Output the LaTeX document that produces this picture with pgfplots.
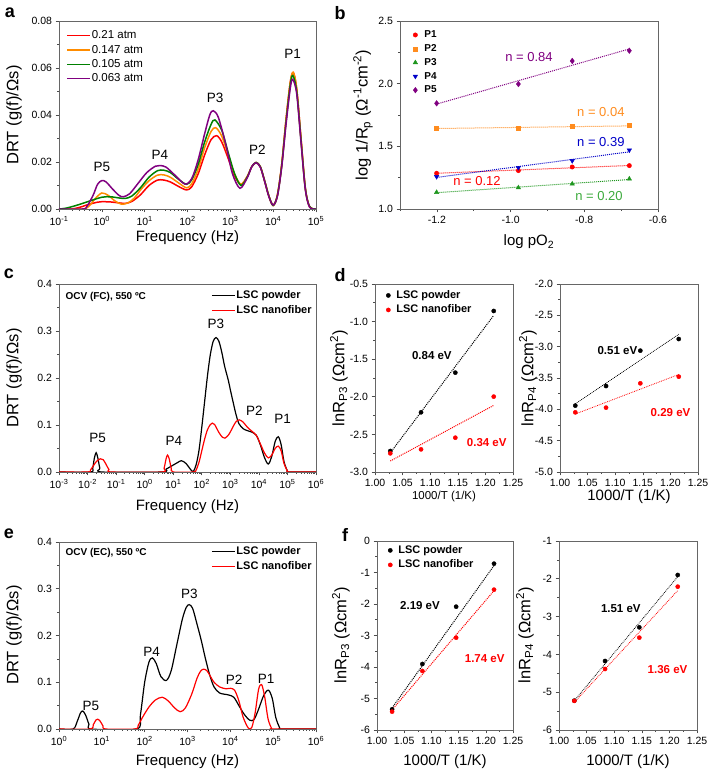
\documentclass[border=0pt]{standalone}
\usepackage{fontspec}
\setmainfont{Liberation Sans}
\usepackage{pgfplots}
\usepackage{pgfplotstable}
\pgfplotsset{compat=1.18}
\definecolor{cred}{RGB}{255,0,0}
\definecolor{corange}{RGB}{255,140,0}
\definecolor{cgreen}{RGB}{0,128,0}
\definecolor{cpurple}{RGB}{128,0,128}
\definecolor{borange}{RGB}{255,140,30}
\definecolor{bgreen}{RGB}{30,150,30}
\definecolor{tgreen}{RGB}{60,170,60}
\definecolor{bblue}{RGB}{0,0,200}
\newcommand{\tf}{\fontsize{10.5}{12}\selectfont}
\newcommand{\xlf}{\fontsize{15}{17}\selectfont}
\newcommand{\ylf}{\fontsize{16.5}{18}\selectfont}
\newcommand{\pf}{\fontsize{13.5}{15}\selectfont}
\newcommand{\letf}{\fontsize{18}{20}\selectfont\bfseries}
\gdef\minorlist{}
\foreach \e in {-3,...,5}{\foreach \m in {2,...,9}{\xdef\minorlist{\minorlist\m e\e,}}}
\pgfplotsset{
 myax/.style={scale only axis, anchor=south west,
  axis line style={black!60, line width=0.7pt},
  every tick/.style={black!70, line width=0.6pt},
  tick align=outside, xtick pos=left, ytick pos=left,
  major tick length=3.5pt, minor tick length=2pt,
  ticklabel style={font=\tf}, /pgf/number format/assume math mode=true,
  scaled x ticks=false, scaled y ticks=false,
  legend cell align=left},
 logminor/.style={minor xtick/.expanded={\minorlist 2e6}},
 lleg/.style={legend style={draw=none, fill=none, row sep=1.3pt,
   nodes={text height=8.5pt, text depth=2.5pt, inner sep=1pt}}},
 fx2/.style={xticklabel={\pgfmathprintnumber[fixed,fixed zerofill,precision=2]{\tick}}},
 fx1/.style={xticklabel={\pgfmathprintnumber[fixed,fixed zerofill,precision=1]{\tick}}},
 fy2/.style={yticklabel={\pgfmathprintnumber[fixed,fixed zerofill,precision=2]{\tick}}},
 fy1/.style={yticklabel={\pgfmathprintnumber[fixed,fixed zerofill,precision=1]{\tick}}},
 fy0/.style={yticklabel={\pgfmathprintnumber[fixed,precision=0]{\tick}}},
}
\pgfplotstableread{
x y
-1.0 0
-0.7 0.0000
-0.5 0.0008
-0.3 0.0020
-0.1 0.0029
0.0 0.0031
0.2 0.0030
0.4 0.0026
0.55 0.0024
0.7 0.0032
0.9 0.0060
1.1 0.0100
1.3 0.0123
1.45 0.0123
1.6 0.0115
1.8 0.0095
1.98 0.0081
2.1 0.0095
2.25 0.0150
2.4 0.0230
2.55 0.0295
2.68 0.0312
2.8 0.0285
2.95 0.0215
3.1 0.0140
3.25 0.0105
3.4 0.0140
3.5 0.0180
3.6 0.0197
3.7 0.0180
3.8 0.0120
3.9 0.0055
4.0 0.0015
4.1 0.0060
4.2 0.0190
4.3 0.0380
4.4 0.0540
4.47 0.0580
4.55 0.0510
4.65 0.0300
4.75 0.0090
4.85 0.0010
5.0 0
}\aRed
\pgfplotstableread{
x y
-1.0 0
-0.45 0
-0.3 0.0012
-0.15 0.0045
0.0 0.0068
0.15 0.0058
0.3 0.0035
0.45 0.0021
0.6 0.0025
0.75 0.0045
0.9 0.0080
1.1 0.0120
1.3 0.0144
1.45 0.0145
1.6 0.0135
1.8 0.0110
1.98 0.0090
2.1 0.0108
2.25 0.0170
2.4 0.0260
2.55 0.0330
2.66 0.0346
2.8 0.0310
2.95 0.0230
3.1 0.0148
3.25 0.0105
3.4 0.0140
3.5 0.0180
3.6 0.0198
3.7 0.0180
3.8 0.0120
3.9 0.0055
4.0 0.0015
4.1 0.0060
4.2 0.0190
4.3 0.0380
4.4 0.0540
4.47 0.0582
4.55 0.0510
4.65 0.0300
4.75 0.0090
4.85 0.0010
5.0 0
}\aOrange
\pgfplotstableread{
x y
-1.0 0
-0.85 0.0003
-0.6 0.0015
-0.3 0.0033
0.0 0.0050
0.2 0.0052
0.4 0.0047
0.55 0.0045
0.7 0.0055
0.9 0.0090
1.1 0.0135
1.3 0.0163
1.45 0.0165
1.6 0.0155
1.8 0.0125
1.98 0.0105
2.1 0.0125
2.25 0.0190
2.4 0.0285
2.55 0.0360
2.64 0.0379
2.8 0.0335
2.95 0.0240
3.1 0.0150
3.25 0.0100
3.4 0.0138
3.5 0.0180
3.6 0.0198
3.7 0.0180
3.8 0.0120
3.9 0.0055
4.0 0.0015
4.1 0.0058
4.2 0.0185
4.3 0.0370
4.4 0.0530
4.46 0.0568
4.55 0.0500
4.65 0.0292
4.75 0.0088
4.85 0.0010
5.0 0
}\aGreen
\pgfplotstableread{
x y
-1.0 0
-0.45 0
-0.35 0.0010
-0.2 0.0060
-0.1 0.0105
0.0 0.0121
0.1 0.0115
0.25 0.0085
0.4 0.0058
0.5 0.0052
0.65 0.0065
0.85 0.0110
1.05 0.0155
1.25 0.0182
1.36 0.0185
1.5 0.0178
1.7 0.0145
1.94 0.0106
2.1 0.0130
2.25 0.0210
2.4 0.0320
2.52 0.0400
2.6 0.0418
2.72 0.0390
2.9 0.0270
3.05 0.0150
3.226 0.0088
3.4 0.0135
3.5 0.0180
3.6 0.0197
3.7 0.0178
3.8 0.0118
3.9 0.0052
4.0 0.0017
4.1 0.0055
4.2 0.0180
4.3 0.0360
4.4 0.0515
4.456 0.0552
4.55 0.0490
4.65 0.0285
4.75 0.0085
4.85 0.0008
5.0 0
}\aPurple
\pgfplotstableread{
x y
-3.0 0
-1.9 0
-1.82 0.008
-1.76 0.030
-1.70 0.041
-1.64 0.030
-1.57 0.008
-1.5 0
0.6 0
0.75 0.006
0.95 0.013
1.15 0.020
1.29 0.024
1.45 0.018
1.6 0.006
1.7 0.001
1.8 0.015
1.9 0.045
2.0 0.095
2.1 0.150
2.2 0.205
2.3 0.250
2.4 0.278
2.5 0.286
2.6 0.278
2.7 0.255
2.8 0.225
2.93 0.195
3.0 0.175
3.1 0.148
3.2 0.122
3.3 0.103
3.45 0.092
3.6 0.088
3.75 0.085
3.91 0.078
4.05 0.058
4.2 0.030
4.33 0.017
4.45 0.033
4.57 0.065
4.68 0.075
4.78 0.058
4.88 0.022
5.0 0.002
5.05 0
6.0 0
}\cBlack
\pgfplotstableread{
x y
-3.0 0
-2.0 0
-1.9 0.004
-1.8 0.013
-1.68 0.023
-1.55 0.028
-1.45 0.026
-1.35 0.016
-1.25 0.005
-1.15 0
0.6 0
0.68 0.008
0.75 0.028
0.8 0.036
0.86 0.028
0.93 0.008
1.0 0
1.7 0
1.8 0.004
1.9 0.020
2.0 0.045
2.1 0.070
2.2 0.090
2.3 0.101
2.37 0.104
2.45 0.101
2.6 0.084
2.72 0.074
2.81 0.072
2.95 0.080
3.1 0.097
3.2 0.107
3.31 0.111
3.45 0.106
3.6 0.095
3.75 0.087
3.91 0.078
4.05 0.060
4.2 0.040
4.33 0.030
4.45 0.036
4.57 0.050
4.68 0.055
4.78 0.045
4.88 0.018
5.0 0.002
5.05 0
6.0 0
}\cRed
\pgfplotstableread{
x y
0 0
0.33 0
0.42 0.015
0.5 0.034
0.553 0.0385
0.62 0.030
0.7 0.010
0.76 0
1.81 0
1.9 0.030
2.0 0.100
2.1 0.143
2.18 0.152
2.27 0.140
2.38 0.112
2.51 0.104
2.62 0.125
2.75 0.180
2.88 0.235
2.97 0.260
3.04 0.266
3.12 0.258
3.22 0.225
3.32 0.190
3.42 0.150
3.52 0.115
3.62 0.090
3.75 0.077
3.95 0.073
4.08 0.068
4.2 0.050
4.32 0.032
4.45 0.019
4.55 0.020
4.65 0.040
4.78 0.072
4.89 0.083
4.98 0.065
5.06 0.025
5.15 0.003
5.2 0
6.0 0
}\eBlack
\pgfplotstableread{
x y
0 0
0.72 0
0.8 0.009
0.86 0.019
0.9 0.021
0.96 0.017
1.03 0.006
1.09 0
1.77 0
1.85 0.008
1.95 0.025
2.1 0.047
2.25 0.062
2.41 0.068
2.55 0.060
2.7 0.045
2.83 0.037
2.95 0.045
3.1 0.075
3.22 0.108
3.3 0.123
3.37 0.128
3.45 0.125
3.52 0.115
3.62 0.100
3.75 0.090
3.9 0.086
4.0 0.087
4.1 0.083
4.2 0.060
4.3 0.025
4.42 0.002
4.5 0.003
4.58 0.035
4.66 0.085
4.73 0.095
4.8 0.070
4.88 0.022
4.96 0.002
5.0 0
6.0 0
}\eRed
\begin{document}
\begin{tikzpicture}[x=1pt,y=1pt]
\path[use as bounding box] (0,0) rectangle (709,775);
% ---------------- panel a
\begin{axis}[myax, lleg, logminor, at={(59pt,566pt)}, width=257pt, height=188pt,
  xmode=log, xmin=0.1, xmax=1e5, ymin=0, ymax=0.08,
  xtick={0.1,1,10,100,1000,10000,100000},
  xticklabels={10\textsuperscript{-1},10\textsuperscript{0},10\textsuperscript{1},10\textsuperscript{2},10\textsuperscript{3},10\textsuperscript{4},10\textsuperscript{5}},
  ytick={0,0.02,0.04,0.06,0.08}, minor y tick num=1, fy2,
  legend style={at={(axis description cs:0.016,0.968)}, anchor=north west, font=\fontsize{11.5}{12}\selectfont},
  legend image code/.code={\draw[#1, line width=1.5pt] (0pt,0pt)--(23pt,0pt);}]
\addplot[cred, line width=1.5pt, smooth, tension=0.5] table[x expr={10^(\thisrow{x})}, y=y] {\aRed};
\addlegendentry{0.21 atm}
\addplot[corange, line width=1.5pt, smooth, tension=0.5] table[x expr={10^(\thisrow{x})}, y=y] {\aOrange};
\addlegendentry{0.147 atm}
\addplot[cgreen, line width=1.5pt, smooth, tension=0.5] table[x expr={10^(\thisrow{x})}, y=y] {\aGreen};
\addlegendentry{0.105 atm}
\addplot[cpurple, line width=1.5pt, smooth, tension=0.5] table[x expr={10^(\thisrow{x})}, y=y] {\aPurple};
\addlegendentry{0.063 atm}
\node[font=\pf] at (axis cs:1,0.0181) {P5};
\node[font=\pf] at (axis cs:22.8,0.0230) {P4};
\node[font=\pf] at (axis cs:440,0.0471) {P3};
\node[font=\pf] at (axis cs:4256,0.0251) {P2};
\node[font=\pf] at (axis cs:28576,0.0662) {P1};
\end{axis}
% ---------------- panel b
\begin{axis}[myax, at={(400pt,566pt)}, width=258pt, height=188pt,
  xmin=-1.3, xmax=-0.6, ymin=1.0, ymax=2.5,
  xtick={-1.2,-1.0,-0.8,-0.6}, minor xtick={-1.3,-1.1,-0.9,-0.7},
  ytick={1.0,1.5,2.0,2.5}, minor y tick num=1, fx1, fy1,
  legend style={at={(axis description cs:0.02,0.968)}, anchor=north west, draw=none, fill=none,
   font=\bfseries\fontsize{10}{11}\selectfont, row sep=2.3pt,
   nodes={text height=7.5pt, text depth=2pt, inner sep=1pt}},
  legend image code/.code={\draw[#1] plot coordinates {(7pt,0pt)}; \path[draw=none,fill=none] (0pt,0pt) (15pt,0pt);}]
\addplot[only marks, mark=*, cred, mark size=2.2pt] coordinates {(-1.2007,1.285) (-0.9788,1.306) (-0.8327,1.335) (-0.6778,1.346)};
\addlegendentry{P1}
\addplot[only marks, mark=square*, borange, mark size=2pt] coordinates {(-1.2007,1.644) (-0.9788,1.646) (-0.8327,1.657) (-0.6778,1.665)};
\addlegendentry{P2}
\addplot[only marks, mark=triangle*, bgreen, mark size=2.6pt] coordinates {(-1.2007,1.133) (-0.9788,1.170) (-0.8327,1.200) (-0.6778,1.240)};
\addlegendentry{P3}
\addplot[only marks, mark=triangle*, mark options={rotate=180}, bblue, mark size=2.6pt] coordinates {(-1.2007,1.258) (-0.9788,1.330) (-0.8327,1.385) (-0.6778,1.470)};
\addlegendentry{P4}
\addplot[only marks, mark=diamond*, cpurple, mark size=2.8pt] coordinates {(-1.2007,1.843) (-0.9788,1.997) (-0.8327,2.181) (-0.6778,2.263)};
\addlegendentry{P5}
\addplot[cred, densely dotted, line width=1pt, forget plot] coordinates {(-1.2007,1.285) (-0.6778,1.347)};
\addplot[borange, densely dotted, line width=1pt, forget plot] coordinates {(-1.2007,1.642) (-0.6778,1.663)};
\addplot[bgreen, densely dotted, line width=1pt, forget plot] coordinates {(-1.2007,1.130) (-0.6778,1.235)};
\addplot[bblue, densely dotted, line width=1pt, forget plot] coordinates {(-1.2007,1.252) (-0.6778,1.456)};
\addplot[cpurple, densely dotted, line width=1pt, forget plot] coordinates {(-1.2007,1.837) (-0.6778,2.277)};
\node[font=\fontsize{13}{14}\selectfont, text=cpurple] at (axis cs:-0.95,2.213) {n = 0.84};
\node[font=\fontsize{13}{14}\selectfont, text=borange] at (axis cs:-0.755,1.774) {n = 0.04};
\node[font=\fontsize{13}{14}\selectfont, text=bblue] at (axis cs:-0.755,1.537) {n = 0.39};
\node[font=\fontsize{13}{14}\selectfont, text=cred] at (axis cs:-1.091,1.223) {n = 0.12};
\node[font=\fontsize{13}{14}\selectfont, text=tgreen] at (axis cs:-0.76,1.104) {n = 0.20};
\end{axis}
% ---------------- panel c
\begin{axis}[myax, lleg, logminor, at={(59pt,303pt)}, width=257pt, height=188pt,
  xmode=log, xmin=1e-3, xmax=1e6, ymin=0, ymax=0.4,
  xtick={1e-3,1e-2,1e-1,1,10,100,1000,10000,100000,1000000},
  xticklabels={10\textsuperscript{-3},10\textsuperscript{-2},10\textsuperscript{-1},10\textsuperscript{0},10\textsuperscript{1},10\textsuperscript{2},10\textsuperscript{3},10\textsuperscript{4},10\textsuperscript{5},10\textsuperscript{6}},
  ytick={0,0.1,0.2,0.3,0.4}, minor y tick num=1, fy1,
  legend style={at={(axis description cs:0.58,0.984)}, anchor=north west, font=\bfseries\fontsize{11}{12}\selectfont, row sep=1.5pt},
  legend image code/.code={\draw[#1] (0pt,0pt)--(23pt,0pt);}]
\addplot[black, line width=1.2pt, smooth, tension=0.5] table[x expr={10^(\thisrow{x})}, y=y] {\cBlack};
\addlegendentry{LSC powder}
\addplot[cred, line width=1.2pt, smooth, tension=0.5] table[x expr={10^(\thisrow{x})}, y=y] {\cRed};
\addlegendentry{LSC nanofiber}
\node[font=\bfseries\fontsize{10}{11}\selectfont, anchor=west] at (axis description cs:0.012,0.932) {OCV (FC), 550 ºC};
\node[font=\pf] at (axis cs:0.02265,0.073) {P5};
\node[font=\pf] at (axis cs:10.6,0.066) {P4};
\node[font=\pf] at (axis cs:314,0.316) {P3};
\node[font=\pf] at (axis cs:6918,0.130) {P2};
\node[font=\pf] at (axis cs:67608,0.112) {P1};
\end{axis}
% ---------------- panel d left
\begin{axis}[myax, at={(375pt,303pt)}, width=138pt, height=188pt,
  xmin=1.0, xmax=1.25, ymin=-3, ymax=-0.5,
  xtick={1,1.05,1.1,1.15,1.2,1.25}, minor x tick num=1,
  ytick={-3,-2.5,-2,-1.5,-1,-0.5}, minor y tick num=1, fx2, fy1,
  legend style={at={(axis description cs:0.03,0.984)}, anchor=north west, draw=none, fill=none,
   font=\bfseries\fontsize{11}{12}\selectfont, row sep=2pt,
   nodes={text height=8pt, text depth=2.5pt, inner sep=1pt}},
  legend image code/.code={\draw[#1] plot coordinates {(6pt,0pt)}; \path[draw=none,fill=none] (0pt,0pt) (13pt,0pt);}]
\addplot[only marks, mark=*, black, mark size=2.1pt] coordinates {(1.0277,-2.721) (1.0834,-2.206) (1.1455,-1.679) (1.2151,-0.859)};
\addlegendentry{LSC powder}
\addplot[only marks, mark=*, cred, mark size=2.1pt] coordinates {(1.0277,-2.752) (1.0834,-2.699) (1.1455,-2.544) (1.2151,-1.998)};
\addlegendentry{LSC nanofiber}
\addplot[black, densely dotted, line width=1pt, forget plot] coordinates {(1.0277,-2.745) (1.2151,-0.918)};
\addplot[cred, densely dotted, line width=1pt, forget plot] coordinates {(1.0277,-2.854) (1.2151,-2.114)};
\node[font=\bfseries\fontsize{11.5}{12}\selectfont] at (axis cs:1.103,-1.453) {0.84 eV};
\node[font=\bfseries\fontsize{11.5}{12}\selectfont, text=cred] at (axis cs:1.2024,-2.61) {0.34 eV};
\end{axis}
% ---------------- panel d right
\begin{axis}[myax, at={(560pt,303pt)}, width=138pt, height=188pt,
  xmin=1.0, xmax=1.25, ymin=-5, ymax=-2,
  xtick={1,1.05,1.1,1.15,1.2,1.25}, minor x tick num=1,
  ytick={-5,-4.5,-4,-3.5,-3,-2.5,-2}, minor y tick num=1, fx2, fy1]
\addplot[only marks, mark=*, black, mark size=2.1pt] coordinates {(1.0277,-3.941) (1.0834,-3.628) (1.1455,-3.064) (1.2151,-2.878)};
\addplot[only marks, mark=*, cred, mark size=2.1pt] coordinates {(1.0277,-4.048) (1.0834,-3.973) (1.1455,-3.585) (1.2151,-3.479)};
\addplot[black, densely dotted, line width=0.8pt] coordinates {(1.0277,-3.912) (1.2151,-2.803)};
\addplot[cred, densely dotted, line width=0.8pt] coordinates {(1.0277,-4.075) (1.2151,-3.444)};
\node[font=\bfseries\fontsize{11.5}{12}\selectfont] at (axis cs:1.104,-3.064) {0.51 eV};
\node[font=\bfseries\fontsize{11.5}{12}\selectfont, text=cred] at (axis cs:1.2002,-4.053) {0.29 eV};
\end{axis}
% ---------------- panel e
\begin{axis}[myax, lleg, logminor, at={(59pt,46pt)}, width=257pt, height=187pt,
  xmode=log, xmin=1, xmax=1e6, ymin=0, ymax=0.4,
  xtick={1,10,100,1000,10000,100000,1000000},
  xticklabels={10\textsuperscript{0},10\textsuperscript{1},10\textsuperscript{2},10\textsuperscript{3},10\textsuperscript{4},10\textsuperscript{5},10\textsuperscript{6}},
  ytick={0,0.1,0.2,0.3,0.4}, minor y tick num=1, fy1,
  legend style={at={(axis description cs:0.58,0.995)}, anchor=north west, font=\bfseries\fontsize{11}{12}\selectfont, row sep=1.5pt},
  legend image code/.code={\draw[#1] (0pt,0pt)--(23pt,0pt);}]
\addplot[black, line width=1.2pt, smooth, tension=0.5] table[x expr={10^(\thisrow{x})}, y=y] {\eBlack};
\addlegendentry{LSC powder}
\addplot[cred, line width=1.2pt, smooth, tension=0.5] table[x expr={10^(\thisrow{x})}, y=y] {\eRed};
\addlegendentry{LSC nanofiber}
\node[font=\bfseries\fontsize{10}{11}\selectfont, anchor=west] at (axis description cs:0.012,0.943) {OCV (EC), 550 ºC};
\node[font=\pf] at (axis cs:5.58,0.049) {P5};
\node[font=\pf] at (axis cs:146,0.164) {P4};
\node[font=\pf] at (axis cs:1104,0.289) {P3};
\node[font=\pf] at (axis cs:12190,0.105) {P2};
\node[font=\pf] at (axis cs:68077,0.107) {P1};
\end{axis}
% ---------------- panel f left
\begin{axis}[myax, at={(377pt,45pt)}, width=136pt, height=189pt,
  xmin=1.0, xmax=1.25, ymin=-6, ymax=0,
  xtick={1,1.05,1.1,1.15,1.2,1.25}, minor x tick num=1,
  ytick={-6,-5,-4,-3,-2,-1,0}, minor y tick num=1, fx2, fy0,
  legend style={at={(axis description cs:0.03,0.995)}, anchor=north west, draw=none, fill=none,
   font=\bfseries\fontsize{11}{12}\selectfont, row sep=2pt,
   nodes={text height=8pt, text depth=2.5pt, inner sep=1pt}},
  legend image code/.code={\draw[#1] plot coordinates {(6pt,0pt)}; \path[draw=none,fill=none] (0pt,0pt) (13pt,0pt);}]
\addplot[only marks, mark=*, black, mark size=2.1pt] coordinates {(1.0277,-5.344) (1.0834,-3.905) (1.1455,-2.085) (1.2151,-0.720)};
\addlegendentry{LSC powder}
\addplot[only marks, mark=*, cred, mark size=2.1pt] coordinates {(1.0277,-5.418) (1.0834,-4.127) (1.1455,-3.069) (1.2151,-1.545)};
\addlegendentry{LSC nanofiber}
\addplot[black, densely dotted, line width=1pt, forget plot] coordinates {(1.0277,-5.30) (1.2151,-0.78)};
\addplot[cred, densely dotted, line width=1pt, forget plot] coordinates {(1.0277,-5.361) (1.2151,-1.577)};
\node[font=\bfseries\fontsize{11.5}{12}\selectfont] at (axis cs:1.079,-2.05) {2.19 eV};
\node[font=\bfseries\fontsize{11.5}{12}\selectfont, text=cred] at (axis cs:1.198,-3.746) {1.74 eV};
\end{axis}
% ---------------- panel f right
\begin{axis}[myax, at={(559pt,45pt)}, width=138pt, height=189pt,
  xmin=1.0, xmax=1.25, ymin=-6, ymax=-1,
  xtick={1,1.05,1.1,1.15,1.2,1.25}, minor x tick num=1,
  ytick={-6,-5,-4,-3,-2,-1}, minor y tick num=1, fx2, fy0]
\addplot[only marks, mark=*, black, mark size=2.1pt] coordinates {(1.0277,-5.224) (1.0834,-4.175) (1.1455,-3.284) (1.2151,-1.899)};
\addplot[only marks, mark=*, cred, mark size=2.1pt] coordinates {(1.0277,-5.230) (1.0834,-4.386) (1.1455,-3.557) (1.2151,-2.208)};
\addplot[black, densely dotted, line width=0.8pt] coordinates {(1.0277,-5.226) (1.2151,-1.943)};
\addplot[cred, densely dotted, line width=0.8pt] coordinates {(1.0277,-5.269) (1.2151,-2.311)};
\node[font=\bfseries\fontsize{11.5}{12}\selectfont] at (axis cs:1.112,-2.78) {1.51 eV};
\node[font=\bfseries\fontsize{11.5}{12}\selectfont, text=cred] at (axis cs:1.1966,-4.41) {1.36 eV};
\end{axis}
% ---------------- labels
\node[font=\letf] at (10,762) {a};
\node[font=\letf] at (340,762) {b};
\node[font=\letf] at (9,501) {c};
\node[font=\letf] at (340,500) {d};
\node[font=\letf] at (9,241) {e};
\node[font=\letf] at (345,240) {f};
\node[font=\xlf] at (187.5,537) {Frequency (Hz)};
\node[font=\xlf] at (187.5,268) {Frequency (Hz)};
\node[font=\xlf] at (187.5,13) {Frequency (Hz)};
\node[font=\xlf] at (529,533) {log pO\textsubscript{2}};
\node[font=\fontsize{11.5}{12}\selectfont] at (444,278) {1000/T (1/K)};
\node[font=\xlf] at (629,278) {1000/T (1/K)};
\node[font=\xlf] at (445,13) {1000/T (1/K)};
\node[font=\xlf] at (628,13) {1000/T (1/K)};
\node[font=\ylf, rotate=90] at (14,660) {DRT (g(f)/Ωs)};
\node[font=\ylf, rotate=90] at (14,397) {DRT (g(f)/Ωs)};
\node[font=\ylf, rotate=90] at (14,140) {DRT (g(f)/Ωs)};
\node[font=\ylf, rotate=90] at (363,660) {log 1/R\textsubscript{p} (Ω\textsuperscript{-1}cm\textsuperscript{-2})};
\node[font=\ylf, rotate=90] at (339,397) {lnR\textsubscript{P3} (Ωcm\textsuperscript{2})};
\node[font=\ylf, rotate=90] at (528,397) {lnR\textsubscript{P4} (Ωcm\textsuperscript{2})};
\node[font=\ylf, rotate=90] at (341,140) {lnR\textsubscript{P3} (Ωcm\textsuperscript{2})};
\node[font=\ylf, rotate=90] at (525,140) {lnR\textsubscript{P4} (Ωcm\textsuperscript{2})};
\end{tikzpicture}
\end{document}
